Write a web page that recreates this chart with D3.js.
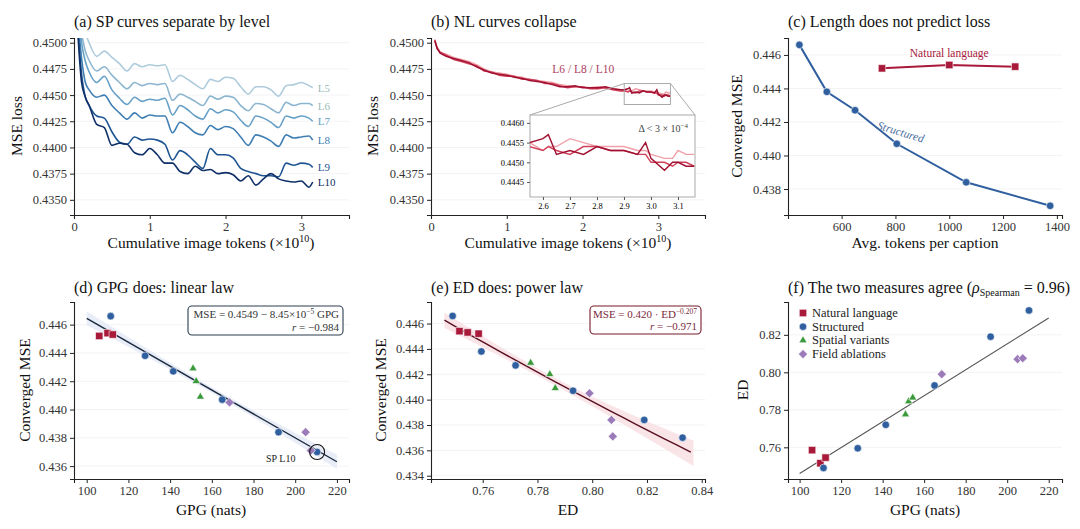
<!DOCTYPE html>
<html><head><meta charset="utf-8">
<script src="https://cdn.jsdelivr.net/npm/d3@7"></script>
<style>
body{margin:0;background:#fff;}
svg, svg text{font-family:"Liberation Serif","Times New Roman","DejaVu Serif",serif !important;}
</style></head><body>
<svg id="c" width="1080" height="529" font-family="Liberation Serif, serif"></svg>
<script>
// ---------- DATA ----------
const spTokens=[0.05,0.1,0.15,0.2,0.3,0.4,0.5,0.6,0.7,0.8,0.9,1.0,1.1,1.2,1.3,1.4,1.5,1.6,1.7,1.8,1.9,2.0,2.1,2.2,2.3,2.4,2.5,2.6,2.7,2.8,2.9,3.0,3.1,3.15];
const spL5=[0.4560,0.4530,0.4510,0.4500,0.4487,0.4492,0.4486,0.4480,0.4473,0.4480,0.4477,0.4479,0.4478,0.4479,0.4463,0.4469,0.4465,0.4460,0.4456,0.4465,0.4463,0.4467,0.4466,0.4458,0.4451,0.4458,0.4458,0.4455,0.4449,0.4459,0.4460,0.4462,0.4459,0.4457];
const spL6=[0.4545,0.4510,0.4492,0.4483,0.4473,0.4477,0.4469,0.4462,0.4456,0.4462,0.4459,0.4461,0.4460,0.4461,0.4445,0.4451,0.4448,0.4444,0.4440,0.4449,0.4446,0.4449,0.4448,0.4440,0.4435,0.4442,0.4441,0.4437,0.4433,0.4443,0.4440,0.4442,0.4442,0.4440];
const spL7=[0.4535,0.4500,0.4482,0.4472,0.4462,0.4468,0.4455,0.4447,0.4441,0.4448,0.4444,0.4446,0.4445,0.4447,0.4431,0.4440,0.4436,0.4430,0.4427,0.4437,0.4433,0.4436,0.4434,0.4426,0.4420,0.4430,0.4428,0.4424,0.4419,0.4430,0.4428,0.4430,0.4428,0.4425];
const spL8=[0.4525,0.4485,0.4462,0.4455,0.4448,0.4450,0.4440,0.4433,0.4427,0.4433,0.4428,0.4431,0.4430,0.4430,0.4414,0.4424,0.4420,0.4414,0.4412,0.4421,0.4417,0.4420,0.4418,0.4410,0.4402,0.4412,0.4410,0.4406,0.4401,0.4412,0.4409,0.4410,0.4411,0.4407];
const spL9=[0.4515,0.4470,0.4448,0.4440,0.4430,0.4428,0.4415,0.4405,0.4403,0.4410,0.4407,0.4408,0.4407,0.4403,0.4388,0.4397,0.4393,0.4386,0.4380,0.4399,0.4393,0.4393,0.4390,0.4380,0.4377,0.4375,0.4373,0.4373,0.4372,0.4385,0.4383,0.4385,0.4384,0.4381];
const spL10=[0.4510,0.4462,0.4448,0.4440,0.4422,0.4419,0.4402,0.4404,0.4403,0.4395,0.4393,0.4399,0.4393,0.4385,0.4385,0.4377,0.4375,0.4382,0.4378,0.4379,0.4375,0.4376,0.4374,0.4368,0.4373,0.4364,0.4370,0.4375,0.4370,0.4368,0.4367,0.4368,0.4362,0.4367];
const spLabels=["L5","L6","L7","L8","L9","L10"];

const nlTokens=[0.05,0.08,0.12,0.2,0.3,0.4,0.5,0.6,0.7,0.8,0.9,1.0,1.1,1.2,1.3,1.4,1.5,1.6,1.7,1.8,1.9,2.0,2.1,2.2,2.3,2.4,2.5,2.55,2.6,2.62,2.65,2.7,2.75,2.8,2.85,2.9,2.95,2.98,3.0,3.05,3.08,3.1,3.13,3.16];
const nlL6=[0.4501,0.4496,0.4491,0.4489,0.4486,0.4484,0.4482,0.4479,0.4475,0.4472,0.4471,0.4470,0.4468,0.4467,0.4465,0.4464,0.4463,0.4462,0.4460,0.4459,0.4458,0.4458,0.4457,0.4458,0.4457,0.4456,0.4455,0.4455,0.4453,0.4454,0.4454,0.4456,0.4455,0.4454,0.4454,0.4454,0.4453,0.4453,0.4452,0.4451,0.4451,0.4453,0.4452,0.4452];
const nlL8=[0.4503,0.4494,0.4491,0.4488,0.4484,0.4482,0.4480,0.4478,0.4473,0.4472,0.4469,0.4468,0.4468,0.4465,0.4465,0.4464,0.4461,0.4461,0.4459,0.4457,0.4458,0.4458,0.4456,0.4456,0.4457,0.4455,0.4454,0.4454,0.4453,0.4454,0.4453,0.4452,0.4454,0.4454,0.4453,0.4453,0.4452,0.4452,0.4450,0.4450,0.4449,0.4450,0.4450,0.4449];
const nlL10=[0.4502,0.4495,0.4490,0.4487,0.4485,0.4483,0.4481,0.4477,0.4474,0.4471,0.4470,0.4469,0.4467,0.4466,0.4464,0.4463,0.4462,0.4460,0.4458,0.4458,0.4459,0.4457,0.4457,0.4457,0.4458,0.4456,0.4455,0.4455,0.4456,0.4457,0.4452,0.4453,0.4452,0.4454,0.4453,0.4453,0.4452,0.4455,0.4451,0.4448,0.4450,0.4450,0.4449,0.4449];

const structTokens=[443,545,650,805,1063,1375];
const structGPG=[111.5,128,141.5,165,192,210.5];
const structED=[0.749,0.7595,0.772,0.793,0.819,0.833];
const structMSE=[0.4466,0.4438,0.4427,0.4407,0.4384,0.4370];
const nlRunTokens=[750,1000,1245];
const nlGPG=[106,110,112.5];
const nlED=[0.7585,0.7515,0.7545];
const nlMSE=[0.4452,0.4454,0.4453];
const spatialGPG=[151,152.5,154.5];
const spatialED=[0.7775,0.7845,0.7865];
const spatialMSE=[0.4429,0.4420,0.4409];
const fieldGPG=[168.5,205,207.5];
const fieldED=[0.799,0.807,0.8075];
const fieldMSE=[0.4405,0.4384,0.4371];

const linA=0.4549, linB=8.45e-5;
const powA=0.420, powK=-0.207;
const edFitGPG=[100,220], edFitED=[0.746,0.829];
const bandD=[[100,0.0005],[160,0.0002],[220,0.0005]];
const bandE=[[0.746,0.0006],[0.79,0.0003],[0.837,0.0010]];

const C={nl:"#a8193a",st:"#2f5f9e",sp:"#3a9a3a",fa:"#9a7ab8"};
const FONT="Liberation Serif, Times New Roman, serif";
const svg=d3.select("#c");

function panel(box,xd,yd,xt,yt,fmtX,fmtY){
  const x=d3.scaleLinear().domain(xd).range([box.l,box.r]);
  const y=d3.scaleLinear().domain(yd).range([box.b,box.t]);
  const g=svg.append("g");
  g.selectAll("line.grid").data(yt).join("line").attr("x1",box.l).attr("x2",box.r)
   .attr("y1",d=>y(d)).attr("y2",d=>y(d)).attr("stroke","#f3f3f6");
  const ax=g.append("g").attr("transform",`translate(0,${box.b})`).call(d3.axisBottom(x).tickValues(xt).tickFormat(fmtX).tickSizeOuter(0).tickSize(4));
  const ay=g.append("g").attr("transform",`translate(${box.l},0)`).call(d3.axisLeft(y).tickValues(yt).tickFormat(fmtY).tickSizeOuter(0).tickSize(4));
  [ax,ay].forEach(a=>{a.attr("font-family",FONT);a.select(".domain").attr("stroke","#222").attr("stroke-width",1.1);a.selectAll(".tick line").attr("stroke","#222");a.selectAll("text").attr("font-size",12.5).attr("fill","#333");});
  return {x,y,g};
}
function title(xp,yp,t){return svg.append("text").attr("x",xp).attr("y",yp).attr("font-size",16).attr("fill","#111").text(t);}
function xlabel(xp,yp,t){return svg.append("text").attr("x",xp).attr("y",yp).attr("text-anchor","middle").attr("font-size",15.5).attr("fill","#111").text(t);}
function ylabel(xp,yp,t){return svg.append("text").attr("transform",`translate(${xp},${yp}) rotate(-90)`).attr("text-anchor","middle").attr("font-size",15.5).attr("fill","#111").text(t);}
function marker(g,type,cx,cy,col){
  const sym={sq:d3.symbolSquare,ci:d3.symbolCircle,tr:d3.symbolTriangle,di:d3.symbolSquare}[type];
  const size={sq:55,ci:45,tr:28,di:42}[type];
  g.append("path").attr("d",d3.symbol(sym,size)()).attr("transform",`translate(${cx},${cy})`+(type==="di"?" rotate(45)":"")).attr("fill",col).attr("stroke","#fff").attr("stroke-width",0.6);
}
const f4=d3.format(".4f"), f3=d3.format(".3f"), f2=d3.format(".2f"), fd=d3.format("d");
function tokLabel(xp){const xl=xlabel(xp,248,"Cumulative image tokens (×10"); xl.append("tspan").attr("dy",-6).attr("font-size",10).text("10"); xl.append("tspan").attr("dy",6).text(")");}

// (a)
{
 const p=panel({l:74,r:349,t:38,b:215},[0,3.629],[0.43355,0.45045],[0,1,2,3],[0.435,0.4375,0.44,0.4425,0.445,0.4475,0.45],fd,f4);
 const cols=["#aecbdc","#8cb5cf","#66a0c6","#3f7eb3","#1f5592","#0f2f68"];
 const series=[spL5,spL6,spL7,spL8,spL9,spL10];
 svg.append("clipPath").attr("id","ca").append("rect").attr("x",74).attr("y",38).attr("width",275).attr("height",177);
 series.forEach((s,i)=>{
   const line=d3.line().x((d,j)=>p.x(spTokens[j])).y(d=>p.y(d)).curve(d3.curveMonotoneX);
   p.g.append("path").attr("clip-path","url(#ca)").attr("d",line(s)).attr("fill","none").attr("stroke",cols[i]).attr("stroke-width",1.6);
   p.g.append("text").attr("x",p.x(spTokens[spTokens.length-1])+5).attr("y",p.y(s[s.length-1])+4).attr("font-size",11).attr("fill",i<2?"#9bb":cols[i]).text(spLabels[i]);
 });
 title(74,27,"(a) SP curves separate by level");
 tokLabel(211);
 ylabel(22,126,"MSE loss");
}
// (b)
{
 const p=panel({l:431,r:705,t:38,b:215},[0,3.616],[0.43355,0.45045],[0,1,2,3],[0.435,0.4375,0.44,0.4425,0.445,0.4475,0.45],fd,f4);
 const cols=["#f0a0a8","#d0405a","#a01030"];
 const series=[nlL6,nlL8,nlL10];
 const line=d3.line().x((d,j)=>p.x(nlTokens[j])).y(d=>p.y(d));
 series.forEach((s,i)=>p.g.append("path").attr("d",line(s)).attr("fill","none").attr("stroke",cols[i]).attr("stroke-width",1.5));
 p.g.append("text").attr("x",p.x(1.6)).attr("y",p.y(0.4471)).attr("font-size",11.5).attr("fill","#b04060").text("L6 / L8 / L10");
 const zx=[2.55,3.16], zy=[0.4441,0.4461];
 p.g.append("rect").attr("x",p.x(zx[0])).attr("y",p.y(zy[1])).attr("width",p.x(zx[1])-p.x(zx[0])).attr("height",p.y(zy[0])-p.y(zy[1])).attr("fill","none").attr("stroke","#aaa");
 const ib={l:530,r:695,t:115,b:197};
 const ix=d3.scaleLinear().domain([2.552,3.163]).range([ib.l,ib.r]);
 const iy=d3.scaleLinear().domain([0.44412,0.4462]).range([ib.b,ib.t]);
 p.g.append("line").attr("x1",p.x(zx[0])).attr("y1",p.y(zy[1])).attr("x2",ib.l).attr("y2",ib.t).attr("stroke","#aaa");
 p.g.append("line").attr("x1",p.x(zx[1])).attr("y1",p.y(zy[1])).attr("x2",ib.r).attr("y2",ib.t).attr("stroke","#aaa");
 p.g.append("rect").attr("x",ib.l).attr("y",ib.t).attr("width",ib.r-ib.l).attr("height",ib.b-ib.t).attr("fill","#fff").attr("stroke","#aaa");
 const ig=p.g.append("g");
 ig.append("g").attr("transform",`translate(0,${ib.b})`).call(d3.axisBottom(ix).tickValues([2.6,2.7,2.8,2.9,3.0,3.1]).tickFormat(d3.format(".1f")).tickSize(3)).call(a=>{a.attr("font-family",FONT);a.select(".domain").remove();a.selectAll("text").attr("font-size",8.5);a.selectAll("line").attr("stroke","#555");});
 ig.append("g").attr("transform",`translate(${ib.l},0)`).call(d3.axisLeft(iy).tickValues([0.4445,0.445,0.4455,0.446]).tickFormat(f4).tickSize(3)).call(a=>{a.attr("font-family",FONT);a.select(".domain").remove();a.selectAll("text").attr("font-size",8.5);a.selectAll("line").attr("stroke","#555");});
 svg.append("clipPath").attr("id","ci").append("rect").attr("x",ib.l).attr("y",ib.t).attr("width",ib.r-ib.l).attr("height",ib.b-ib.t);
 const il=d3.line().x((d,j)=>ix(nlTokens[j])).y(d=>iy(d));
 series.forEach((s,i)=>ig.append("path").attr("clip-path","url(#ci)").attr("d",il(s)).attr("fill","none").attr("stroke",cols[i]).attr("stroke-width",1.4));
 const dt=ig.append("text").attr("x",688).attr("y",132).attr("text-anchor","end").attr("font-size",10).attr("fill","#444").text("Δ < 3 × 10");
 dt.append("tspan").attr("dy",-4).attr("font-size",7).text("−4");
 title(431,27,"(b) NL curves collapse");
 tokLabel(568);
 ylabel(378,126,"MSE loss");
}
// (c)
{
 const p=panel({l:788,r:1062,t:38,b:215},[400.7,1419],[0.43645,0.44701],[600,800,1000,1200,1400],[0.438,0.44,0.442,0.444,0.446],fd,f3);
 const ls=d3.line().x((d,i)=>p.x(structTokens[i])).y(d=>p.y(d));
 p.g.append("path").attr("d",ls(structMSE)).attr("fill","none").attr("stroke",C.st).attr("stroke-width",2);
 structMSE.forEach((d,i)=>marker(p.g,"ci",p.x(structTokens[i]),p.y(d),C.st));
 const ln=d3.line().x((d,i)=>p.x(nlRunTokens[i])).y(d=>p.y(d));
 p.g.append("path").attr("d",ln(nlMSE)).attr("fill","none").attr("stroke",C.nl).attr("stroke-width",2);
 nlMSE.forEach((d,i)=>marker(p.g,"sq",p.x(nlRunTokens[i]),p.y(d),C.nl));
 p.g.append("text").attr("x",p.x(1000)).attr("y",p.y(0.4459)).attr("text-anchor","middle").attr("font-size",11.5).attr("fill",C.nl).text("Natural language");
 p.g.append("text").attr("transform",`translate(${p.x(730)},${p.y(0.4416)}) rotate(17)`).attr("font-size",11.5).attr("font-style","italic").attr("fill","#4a6e9e").text("Structured");
 title(788,27,"(c) Length does not predict loss");
 xlabel(925,248,"Avg. tokens per caption");
 ylabel(742,126,"Converged MSE");
}
function runs(p,xs,ys){
 ys[0].forEach((d,i)=>marker(p.g,"sq",p.x(xs[0][i]),p.y(d),C.nl));
 ys[1].forEach((d,i)=>marker(p.g,"ci",p.x(xs[1][i]),p.y(d),C.st));
 ys[2].forEach((d,i)=>marker(p.g,"tr",p.x(xs[2][i]),p.y(d),C.sp));
 ys[3].forEach((d,i)=>marker(p.g,"di",p.x(xs[3][i]),p.y(d),C.fa));
}
function box(g,x1,y1,x2,y2,col){
 g.append("rect").attr("x",x1).attr("y",y1).attr("width",x2-x1).attr("height",y2-y1).attr("rx",4).attr("fill","#fff").attr("fill-opacity",0.9).attr("stroke",col).attr("stroke-width",1.1);
}
// (d)
{
 const p=panel({l:74,r:349,t:302,b:479},[93.9,225.8],[0.43509,0.4476],[100,120,140,160,180,200,220],[0.436,0.438,0.44,0.442,0.444,0.446],fd,f3);
 const fit=g=>linA-linB*g;
 const band=d3.area().x(d=>p.x(d[0])).y0(d=>p.y(fit(d[0])-d[1])).y1(d=>p.y(fit(d[0])+d[1])).curve(d3.curveMonotoneX);
 p.g.append("path").attr("d",band(bandD)).attr("fill","#dfe6f3").attr("opacity",0.7);
 p.g.append("line").attr("x1",p.x(100)).attr("y1",p.y(fit(100))).attr("x2",p.x(220)).attr("y2",p.y(fit(220))).attr("stroke","#1a2a40").attr("stroke-width",1.4);
 runs(p,[nlGPG,structGPG,spatialGPG,fieldGPG],[nlMSE,structMSE,spatialMSE,fieldMSE]);
 p.g.append("circle").attr("cx",p.x(structGPG[5])).attr("cy",p.y(structMSE[5])).attr("r",7.5).attr("fill","none").attr("stroke","#111").attr("stroke-width",1.1);
 p.g.append("text").attr("x",p.x(186)).attr("y",p.y(0.4363)).attr("font-size",10).attr("fill","#222").text("SP L10");
 box(p.g,188,306,343,335,"#2c3e50");
 const t1=p.g.append("text").attr("x",339).attr("y",318).attr("text-anchor","end").attr("font-size",11).attr("fill","#333").text("MSE = 0.4549 − 8.45×10");
 t1.append("tspan").attr("dy",-4).attr("font-size",7.5).text("−5"); t1.append("tspan").attr("dy",4).text(" GPG");
 p.g.append("text").attr("x",339).attr("y",331).attr("text-anchor","end").attr("font-size",11).attr("fill","#333").html("<tspan font-style='italic'>r</tspan> = −0.984");
 title(74,293,"(d) GPG does: linear law");
 xlabel(211,515,"GPG (nats)");
 ylabel(30,390,"Converged MSE");
}
// (e)
{
 const p=panel({l:431,r:705,t:302,b:479},[0.7411,0.8412],[0.43374,0.4477],[0.76,0.78,0.8,0.82,0.84],[0.434,0.436,0.438,0.44,0.442,0.444,0.446],f2,f3);
 const fit=e=>powA*Math.pow(e,powK);
 const band=d3.area().x(d=>p.x(d[0])).y0(d=>p.y(fit(d[0])-d[1])).y1(d=>p.y(fit(d[0])+d[1])).curve(d3.curveMonotoneX);
 p.g.append("path").attr("d",band(bandE)).attr("fill","#f8dde2").attr("opacity",0.8);
 const xs=d3.range(0.746,0.8375,0.005);
 p.g.append("path").attr("d",d3.line().x(d=>p.x(d)).y(d=>p.y(fit(d)))(xs)).attr("fill","none").attr("stroke","#5a0f20").attr("stroke-width",1.4);
 runs(p,[nlED,structED,spatialED,fieldED],[nlMSE,structMSE,spatialMSE,fieldMSE]);
 box(p.g,590,306,701,334,"#7a1a2a");
 const t1=p.g.append("text").attr("x",697).attr("y",318).attr("text-anchor","end").attr("font-size",11).attr("fill","#7a2a3a").text("MSE = 0.420 · ED");
 t1.append("tspan").attr("dy",-4).attr("font-size",7.5).text("−0.207");
 p.g.append("text").attr("x",697).attr("y",330).attr("text-anchor","end").attr("font-size",11).attr("fill","#7a2a3a").html("<tspan font-style='italic'>r</tspan> = −0.971");
 title(431,293,"(e) ED does: power law");
 xlabel(568,515,"ED");
 ylabel(386,390,"Converged MSE");
}
// (f)
{
 const p=panel({l:788,r:1062,t:302,b:479},[94.4,226.4],[0.7431,0.8375],[100,120,140,160,180,200,220],[0.76,0.78,0.8,0.82],fd,f2);
 p.g.append("line").attr("x1",p.x(edFitGPG[0])).attr("y1",p.y(edFitED[0])).attr("x2",p.x(edFitGPG[1])).attr("y2",p.y(edFitED[1])).attr("stroke","#555").attr("stroke-width",1.1);
 runs(p,[nlGPG,structGPG,spatialGPG,fieldGPG],[nlED,structED,spatialED,fieldED]);
 const leg=[["sq",C.nl,"Natural language"],["ci",C.st,"Structured"],["tr",C.sp,"Spatial variants"],["di",C.fa,"Field ablations"]];
 leg.forEach((l,i)=>{marker(p.g,l[0],803,313+i*13.7,l[1]);p.g.append("text").attr("x",812).attr("y",317+i*13.7).attr("font-size",12.5).attr("fill","#222").text(l[2]);});
 const t=title(788,293,"(f) The two measures agree (");
 t.append("tspan").attr("font-style","italic").text("ρ");
 t.append("tspan").attr("dy",3).attr("font-size",10).text("Spearman");
 t.append("tspan").attr("dy",-3).text(" = 0.96)");
 xlabel(925,515,"GPG (nats)");
 ylabel(748,390,"ED");
}
</script></body></html>
